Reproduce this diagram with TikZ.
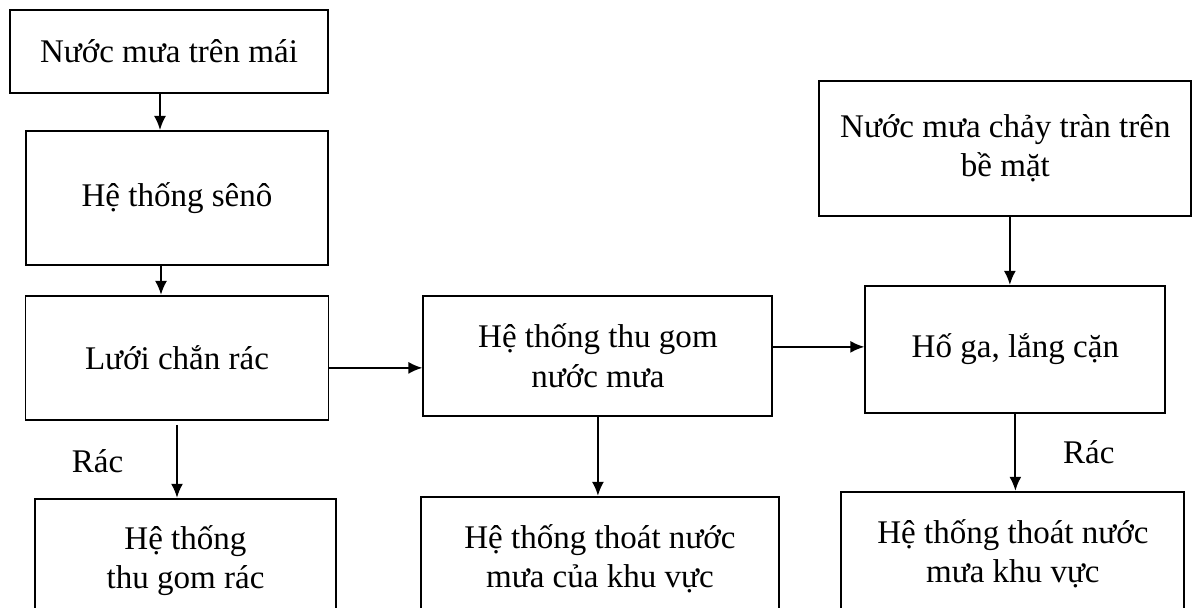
\documentclass[tikz,border=0pt]{standalone}
\usepackage{fontspec}
\setmainfont{Liberation Serif}
\usetikzlibrary{shapes,arrows.meta}
\usetikzlibrary{positioning}

\begin{document}
\begin{tikzpicture}[>={Latex[length=0.28cm,width=0.24cm]}, line width=1.1pt, node distance=1.5cm,
  box/.style={draw, rectangle, align=center, font=\fontsize{18.8}{22.5}\selectfont},
  lbl/.style={font=\fontsize{18.8}{22.5}\selectfont}]
  \clip (0,0) rectangle (23.84,-12.14);

  \node[box, minimum width=6.36cm, minimum height=1.66cm] (roof) at (3.38,-1.03) {Nước mưa trên mái};
  \node[box, minimum width=6.04cm, minimum height=2.68cm] (seno) [below=0.72cm of roof.south east, anchor=north east] {Hệ thống sênô};
  \node[box, minimum width=6.06cm, minimum height=2.48cm] (mesh) [below=0.58cm of seno] {Lưới chắn rác};
  \node[box, minimum width=6.98cm, minimum height=2.4cm] (collect) [right=1.86cm of mesh.north east, anchor=north west] {Hệ thống thu gom\\nước mưa};
  \node[box, minimum width=6.0cm, minimum height=2.54cm] (pit) [right=1.82cm of collect, yshift=0.13cm] {Hố ga, lắng cặn};
  \node[box, minimum width=7.44cm, minimum height=2.7cm] (surface) [above=1.36cm of pit, xshift=-0.2cm] {Nước mưa chảy tràn trên\\bề mặt};

  \node[box, minimum width=6.02cm, minimum height=2.48cm] (trash) [below=1.54cm of mesh, xshift=0.17cm] {Hệ thống\\thu gom rác};
  \node[box, minimum width=7.16cm, minimum height=2.48cm] (drain1) [below=1.58cm of collect, xshift=0.04cm] {Hệ thống thoát nước\\mưa của khu vực};
  \node[box, minimum width=6.86cm, minimum height=2.48cm] (drain2) [below=1.54cm of pit, xshift=-0.05cm] {Hệ thống thoát nước\\mưa khu vực};

  \path[->]
  ([xshift=-0.18cm]roof.south) edge ([xshift=-0.18cm]roof.south |- seno.north)
  ([xshift=-0.32cm]seno.south) edge ([xshift=-0.32cm]seno.south |- mesh.north)
  ([yshift=-0.2cm]mesh.east) edge ([yshift=-0.2cm]mesh.east -| collect.west)
  ([yshift=-0.08cm]mesh.south) edge node[lbl, left=0.94cm] {Rác} (mesh.south |- trash.north)
  ([yshift=0.18cm]collect.east) edge ([yshift=0.18cm]collect.east -| pit.west)
  (collect.south) edge (collect.south |- drain1.north)
  ([xshift=0.09cm]surface.south) edge ([xshift=0.09cm]surface.south |- pit.north)
  (pit.south) edge node[lbl, right=0.82cm] {Rác} (pit.south |- drain2.north);
\end{tikzpicture}
\end{document}
